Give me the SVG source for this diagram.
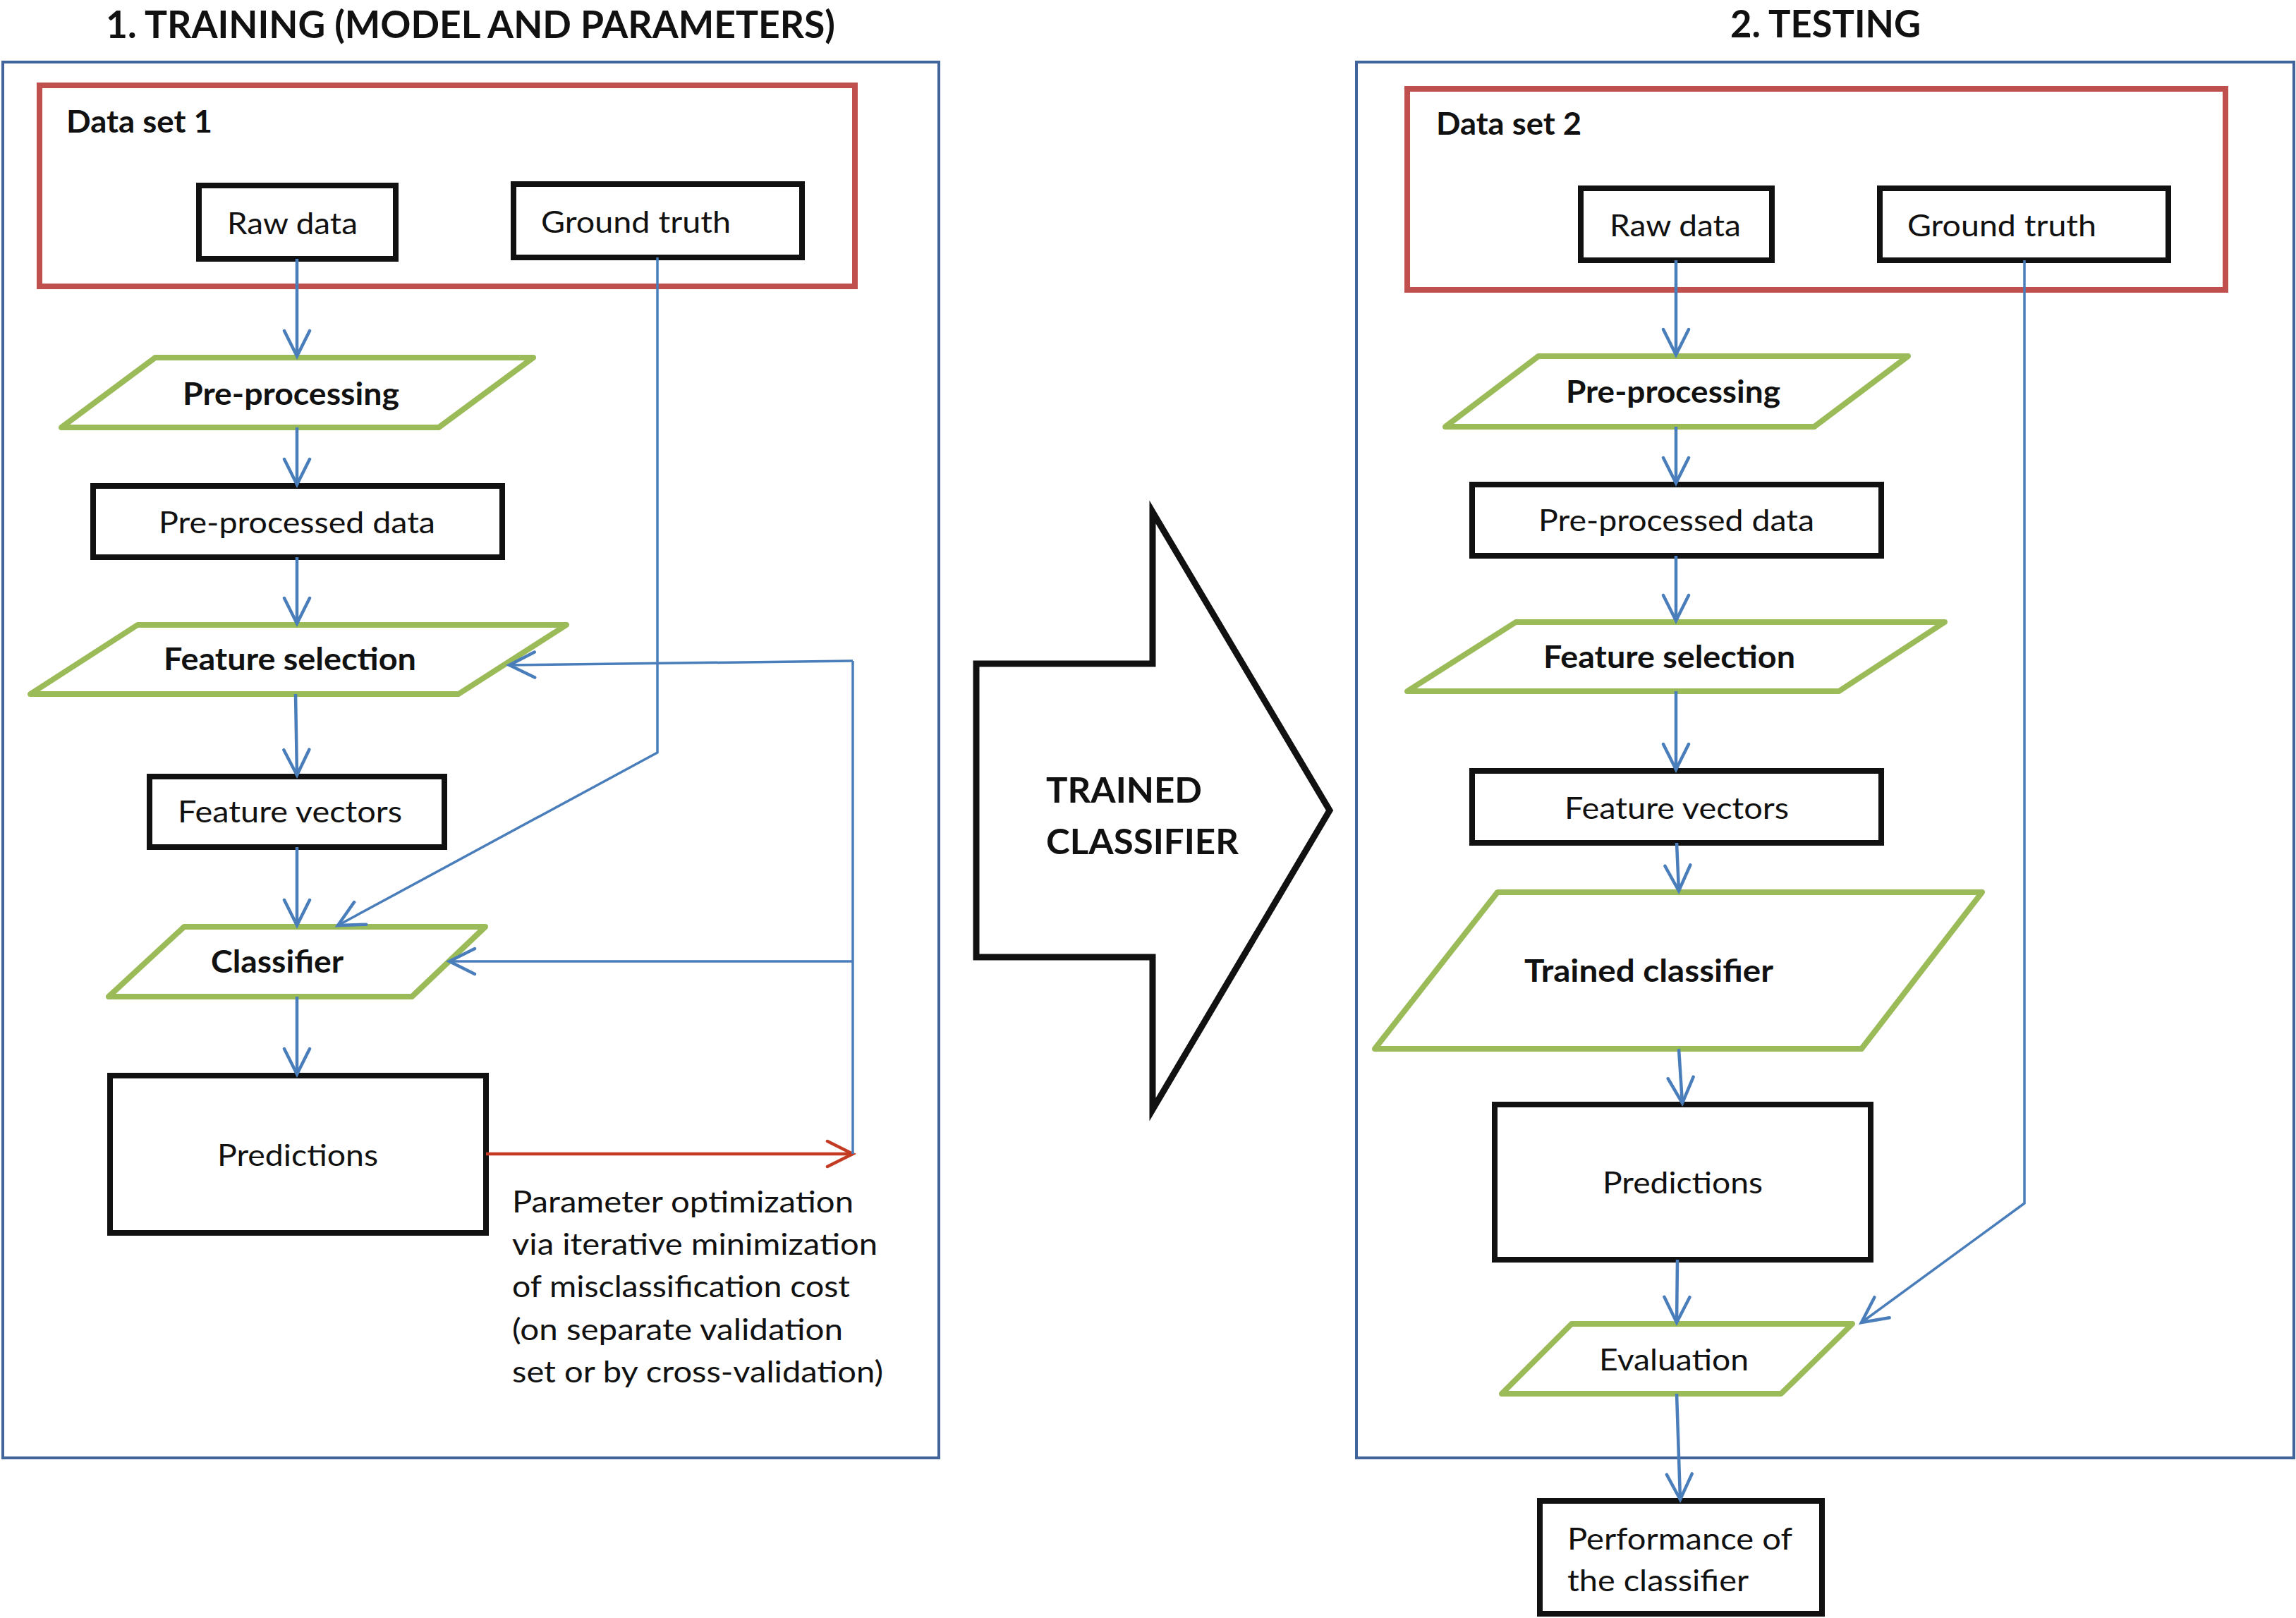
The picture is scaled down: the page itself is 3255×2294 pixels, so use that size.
<svg xmlns="http://www.w3.org/2000/svg" width="3255" height="2294" viewBox="0 0 3255 2294">
<style>
.bg{fill:#ffffff}
.outer{fill:none;stroke:#41659A;stroke-width:4}
.dataset{fill:none;stroke:#C0504D;stroke-width:8}
.box{fill:none;stroke:#111111;stroke-width:8}
.para{fill:none;stroke:#9BBB59;stroke-width:8;stroke-linejoin:round}
.big{fill:#ffffff;stroke:#111111;stroke-width:9}
.con{fill:none;stroke:#4A7EBB;stroke-width:4.5}
.thin{fill:none;stroke:#4A7EBB;stroke-width:3.5}
.red{fill:none;stroke:#C23B22;stroke-width:4.5}
text{font-family:Lato,"Open Sans","Liberation Sans",sans-serif;fill:#111111}
.t{font-size:43px}
.b{font-size:43px;font-weight:bold}
.title{font-size:54px;font-weight:bold}
.bigt{font-size:50px;font-weight:bold}
</style>
<defs>
<marker id="ab" markerUnits="userSpaceOnUse" viewBox="-45 -25 50 50" refX="0" refY="0" markerWidth="50" markerHeight="50" orient="auto">
<path d="M-36,-18 L0,0 L-36,18" fill="none" stroke="#4A7EBB" stroke-width="4.5" stroke-linecap="round"/>
</marker>
<marker id="ar" markerUnits="userSpaceOnUse" viewBox="-45 -25 50 50" refX="0" refY="0" markerWidth="50" markerHeight="50" orient="auto">
<path d="M-36,-18 L0,0 L-36,18" fill="none" stroke="#C23B22" stroke-width="4.5" stroke-linecap="round"/>
</marker>
</defs>
<rect class="bg" x="0" y="0" width="3255" height="2294"/>

<g id="titles">
<text class="title" x="150" y="54" textLength="1034" lengthAdjust="spacingAndGlyphs">1. TRAINING (MODEL AND PARAMETERS)</text>
<text class="title" x="2453" y="53" textLength="270" lengthAdjust="spacingAndGlyphs">2. TESTING</text>
</g>

<g id="training-panel"><rect class="outer" x="4" y="88" width="1327" height="1979"/></g>
<g id="testing-panel"><rect class="outer" x="1923" y="88" width="1329" height="1979"/></g>

<g id="dataset1">
<rect class="dataset" x="56" y="121" width="1156" height="285"/>
<text class="b" x="94" y="188" textLength="207" lengthAdjust="spacingAndGlyphs">Data set 1</text>
</g>
<g id="raw1"><rect class="box" x="282" y="263" width="279" height="104"/>
<text class="t" x="322" y="332" textLength="185" lengthAdjust="spacingAndGlyphs">Raw data</text></g>
<g id="gt1"><rect class="box" x="728" y="261" width="409" height="104"/>
<text class="t" x="767" y="330" textLength="269" lengthAdjust="spacingAndGlyphs">Ground truth</text></g>
<g id="prep1"><polygon class="para" points="220,507 756,507 622,606 87,606"/>
<text class="b" x="259" y="574" textLength="307" lengthAdjust="spacingAndGlyphs">Pre-processing</text></g>
<g id="ppd1"><rect class="box" x="132" y="689" width="580" height="101"/>
<text class="t" x="225" y="756" textLength="392" lengthAdjust="spacingAndGlyphs">Pre-processed data</text></g>
<g id="fs1"><polygon class="para" points="195,886 803,886 650,984 43,984"/>
<text class="b" x="232" y="950" textLength="358" lengthAdjust="spacingAndGlyphs">Feature selection</text></g>
<g id="fv1"><rect class="box" x="212" y="1101" width="418" height="100"/>
<text class="t" x="252" y="1166" textLength="318" lengthAdjust="spacingAndGlyphs">Feature vectors</text></g>
<g id="cls1"><polygon class="para" points="261,1314 688,1314 584,1413 154,1413"/>
<text class="b" x="299" y="1379" textLength="188" lengthAdjust="spacingAndGlyphs">Classifier</text></g>
<g id="pred1"><rect class="box" x="156" y="1525" width="533" height="223"/>
<text class="t" x="308" y="1653" textLength="228" lengthAdjust="spacingAndGlyphs">Predictions</text></g>
<g id="param-note">
<text class="t" x="726" y="1719" textLength="484" lengthAdjust="spacingAndGlyphs">Parameter optimization</text>
<text class="t" x="726" y="1779" textLength="518" lengthAdjust="spacingAndGlyphs">via iterative minimization</text>
<text class="t" x="726" y="1839" textLength="479" lengthAdjust="spacingAndGlyphs">of misclassification cost</text>
<text class="t" x="726" y="1900" textLength="469" lengthAdjust="spacingAndGlyphs">(on separate validation</text>
<text class="t" x="726" y="1960" textLength="526" lengthAdjust="spacingAndGlyphs">set or by cross-validation)</text>
</g>

<g id="trained-arrow">
<polygon class="big" points="1384,941 1634,941 1634,726 1885,1149 1634,1573 1634,1357 1384,1357"/>
<text class="bigt" x="1483" y="1138" textLength="221" lengthAdjust="spacingAndGlyphs">TRAINED</text>
<text class="bigt" x="1483" y="1211" textLength="273" lengthAdjust="spacingAndGlyphs">CLASSIFIER</text>
</g>

<g id="dataset2">
<rect class="dataset" x="1995" y="126" width="1160" height="285"/>
<text class="b" x="2036" y="191" textLength="206" lengthAdjust="spacingAndGlyphs">Data set 2</text>
</g>
<g id="raw2"><rect class="box" x="2241" y="267" width="271" height="102"/>
<text class="t" x="2282" y="335" textLength="186" lengthAdjust="spacingAndGlyphs">Raw data</text></g>
<g id="gt2"><rect class="box" x="2665" y="267" width="409" height="102"/>
<text class="t" x="2704" y="335" textLength="268" lengthAdjust="spacingAndGlyphs">Ground truth</text></g>
<g id="prep2"><polygon class="para" points="2181,505 2705,505 2572,605 2049,605"/>
<text class="b" x="2220" y="571" textLength="304" lengthAdjust="spacingAndGlyphs">Pre-processing</text></g>
<g id="ppd2"><rect class="box" x="2087" y="687" width="580" height="101"/>
<text class="t" x="2181" y="753" textLength="391" lengthAdjust="spacingAndGlyphs">Pre-processed data</text></g>
<g id="fs2"><polygon class="para" points="2149,882 2757,882 2607,980 1995,980"/>
<text class="b" x="2188" y="947" textLength="357" lengthAdjust="spacingAndGlyphs">Feature selection</text></g>
<g id="fv2"><rect class="box" x="2087" y="1093" width="580" height="102"/>
<text class="t" x="2218" y="1161" textLength="318" lengthAdjust="spacingAndGlyphs">Feature vectors</text></g>
<g id="tc2"><polygon class="para" points="2123,1265 2810,1265 2639,1487 1949,1487"/>
<text class="b" x="2161" y="1392" textLength="353" lengthAdjust="spacingAndGlyphs">Trained classifier</text></g>
<g id="pred2"><rect class="box" x="2119" y="1566" width="533" height="220"/>
<text class="t" x="2272" y="1692" textLength="227" lengthAdjust="spacingAndGlyphs">Predictions</text></g>
<g id="eval2"><polygon class="para" points="2228,1877 2626,1877 2525,1976 2129,1976"/>
<text class="t" x="2267" y="1943" textLength="212" lengthAdjust="spacingAndGlyphs">Evaluation</text></g>
<g id="perf2"><rect class="box" x="2183" y="2128" width="400" height="160"/>
<text class="t" x="2222" y="2197" textLength="319" lengthAdjust="spacingAndGlyphs">Performance of</text>
<text class="t" x="2222" y="2256" textLength="257" lengthAdjust="spacingAndGlyphs">the classifier</text></g>

<g id="connectors">
<line class="con" x1="421" y1="367" x2="421" y2="505" marker-end="url(#ab)"/>
<line class="con" x1="421" y1="606" x2="421" y2="687" marker-end="url(#ab)"/>
<line class="con" x1="421" y1="790" x2="421" y2="884" marker-end="url(#ab)"/>
<line class="con" x1="419" y1="984" x2="421" y2="1099" marker-end="url(#ab)"/>
<line class="con" x1="421" y1="1201" x2="421" y2="1312" marker-end="url(#ab)"/>
<line class="con" x1="421" y1="1413" x2="421" y2="1523" marker-end="url(#ab)"/>
<polyline class="thin" points="932,365 932,1067 479,1312" marker-end="url(#ab)"/>
<line class="red" x1="689" y1="1636" x2="1209" y2="1636" marker-end="url(#ar)"/>
<line class="thin" x1="1209" y1="1636" x2="1209" y2="937"/>
<line class="thin" x1="1209" y1="937" x2="722" y2="943" marker-end="url(#ab)"/>
<line class="thin" x1="1209" y1="1363" x2="637" y2="1363" marker-end="url(#ab)"/>

<line class="con" x1="2376" y1="369" x2="2376" y2="503" marker-end="url(#ab)"/>
<line class="con" x1="2376" y1="605" x2="2376" y2="685" marker-end="url(#ab)"/>
<line class="con" x1="2376" y1="788" x2="2376" y2="880" marker-end="url(#ab)"/>
<line class="con" x1="2376" y1="980" x2="2376" y2="1091" marker-end="url(#ab)"/>
<line class="con" x1="2377" y1="1195" x2="2380" y2="1263" marker-end="url(#ab)"/>
<line class="con" x1="2380" y1="1487" x2="2385" y2="1564" marker-end="url(#ab)"/>
<line class="con" x1="2378" y1="1786" x2="2377" y2="1875" marker-end="url(#ab)"/>
<line class="con" x1="2377" y1="1976" x2="2382" y2="2126" marker-end="url(#ab)"/>
<polyline class="thin" points="2870,369 2870,1706 2639,1875" marker-end="url(#ab)"/>
</g>
</svg>
